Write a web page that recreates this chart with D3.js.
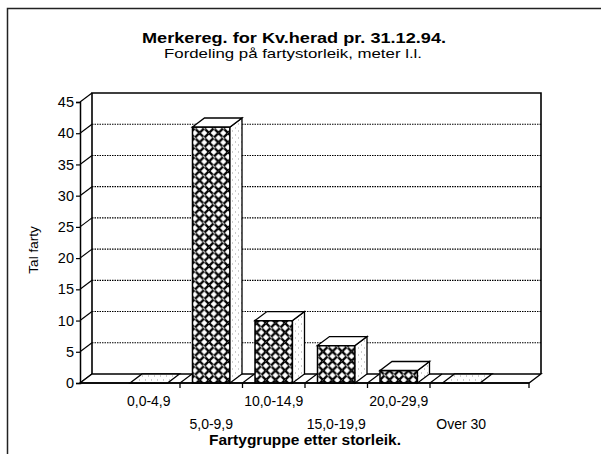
<!DOCTYPE html>
<html>
<head>
<meta charset="utf-8">
<script src="https://cdn.jsdelivr.net/npm/d3@7/dist/d3.min.js"></script>
<style>
  html, body { margin: 0; padding: 0; background: #fff; }
  svg { display: block; font-family: "Liberation Sans", Arial, Helvetica, sans-serif; }
</style>
</head>
<body>
<svg id="chart" width="601" height="454"></svg>
<script>
// Vessel register by size group
const categories = ["0,0-4,9", "5,0-9,9", "10,0-14,9", "15,0-19,9", "20,0-29,9", "Over 30"];
const vessels = [0, 41, 10, 6, 2, 0];
const yTicks = [0, 5, 10, 15, 20, 25, 30, 35, 40, 45];

const titleText = "Merkereg. for Kv.herad pr. 31.12.94.";
const subtitleText = "Fordeling på fartystorleik, meter l.l.";
const yTitle = "Tal farty";
const xTitle = "Fartygruppe etter storleik.";

const svg = d3.select("#chart");
const W = 601, H = 454;

// 3D geometry: depth offset of the back wall
const dx = 12, dy = -9;
const floorLeft = 80, floorRight = 529;

const x = d3.scaleBand().domain(categories).range([117.5, 492.5]).padding(0);
const y = d3.scaleLinear().domain([0, 45]).range([383, 102]);
const barW = x.bandwidth() * 0.6;

// fill patterns
const defs = svg.append("defs");
const P = 9.5;
const hatch = defs.append("pattern")
  .attr("id", "weave").attr("patternUnits", "userSpaceOnUse")
  .attr("width", P).attr("height", P);
hatch.append("rect").attr("width", P).attr("height", P).attr("fill", "#fff");
hatch.append("path").attr("d", `M-2,2 L2,-2 M0,${P} L${P},0 M${P - 2},${P + 2} L${P + 2},${P - 2}`)
  .attr("stroke", "#000").attr("stroke-width", 2.3);
hatch.append("path").attr("d", `M-2,${P - 2} L2,${P + 2} M0,0 L${P},${P} M${P - 2},-2 L${P + 2},2`)
  .attr("stroke", "#000").attr("stroke-width", 2.3);
// small white breaks at the crossings give the woven look
hatch.append("path").attr("d", `M${P / 2 - 1.2},${P / 2 - 1.2} L${P / 2 + 1.2},${P / 2 + 1.2} M-1.2,${P - 1.2} L1.2,${P + 1.2} M${P - 1.2},-1.2 L${P + 1.2},1.2`)
  .attr("stroke", "#fff").attr("stroke-width", 1);

const stipple = defs.append("pattern")
  .attr("id", "stipple").attr("patternUnits", "userSpaceOnUse")
  .attr("width", 6).attr("height", 7);
stipple.append("rect").attr("width", 6).attr("height", 7).attr("fill", "#fff");
stipple.append("path").attr("d", "M1,2 h1 M4,5 h1")
  .attr("stroke", "#999").attr("stroke-width", 1);

// outer frame
svg.append("path")
  .attr("d", `M7.5,${H} V8.5 H${W}`)
  .attr("fill", "none").attr("stroke", "#222").attr("stroke-width", 1.5);

// titles
svg.append("text").attr("x", 294).attr("y", 43).attr("text-anchor", "middle")
  .attr("font-size", 15.5).attr("font-weight", "bold")
  .attr("textLength", 304).attr("lengthAdjust", "spacingAndGlyphs").text(titleText);
svg.append("text").attr("x", 293).attr("y", 58).attr("text-anchor", "middle")
  .attr("font-size", 13.5)
  .attr("textLength", 258).attr("lengthAdjust", "spacingAndGlyphs").text(subtitleText);

// back wall gridlines
const g = svg.append("g");
g.selectAll("line.grid").data(yTicks.filter(t => t > 0 && t < 45)).join("line")
  .attr("class", "grid")
  .attr("x1", floorLeft + dx).attr("x2", floorRight + dx)
  .attr("y1", d => y(d) + dy).attr("y2", d => y(d) + dy)
  .attr("stroke", "#000").attr("stroke-width", 1.1).attr("stroke-dasharray", "1.5,1");

// back wall outline (top and right edges, left back edge)
g.append("path")
  .attr("d", `M${floorLeft + dx},${y(0) + dy} V${y(45) + dy} H${floorRight + dx} V${y(0) + dy}`)
  .attr("fill", "none").attr("stroke", "#000").attr("stroke-width", 1.6);

// left wall depth lines at each tick
g.selectAll("line.wall").data(yTicks).join("line")
  .attr("class", "wall")
  .attr("x1", floorLeft).attr("y1", d => y(d))
  .attr("x2", floorLeft + dx).attr("y2", d => y(d) + dy)
  .attr("stroke", "#000").attr("stroke-width", 1.2);

// floor
g.append("path")
  .attr("d", `M${floorLeft},${y(0)} L${floorLeft + dx},${y(0) + dy} H${floorRight + dx} L${floorRight},${y(0)} Z`)
  .attr("fill", "#fff").attr("stroke", "#000").attr("stroke-width", 1.3);

// floor depth lines at category boundaries
const bounds = categories.slice(1).map(c => x(c));
g.selectAll("line.fl").data(bounds).join("line")
  .attr("class", "fl")
  .attr("x1", d => d).attr("y1", y(0))
  .attr("x2", d => d + dx).attr("y2", y(0) + dy)
  .attr("stroke", "#000").attr("stroke-width", 1.2);

// bars: front face, side face and top face
const bars = g.selectAll("g.bar").data(categories.map((c, i) => ({ c, v: vessels[i] }))).join("g")
  .attr("class", "bar");
bars.each(function(d) {
  const el = d3.select(this);
  const x0 = x(d.c) + (x.bandwidth() - barW) / 2, x1 = x0 + barW;
  const yv = y(d.v), y0 = y(0);
  if (d.v > 0) {
    el.append("rect").attr("x", x0).attr("y", yv).attr("width", barW).attr("height", y0 - yv)
      .attr("fill", "url(#weave)").attr("stroke", "#000").attr("stroke-width", 1.5);
    el.append("path")
      .attr("d", `M${x1},${yv} L${x1 + dx},${yv + dy} V${y0 + dy} L${x1},${y0} Z`)
      .attr("fill", "url(#stipple)").attr("stroke", "#000").attr("stroke-width", 1.3);
  }
  el.append("path")
    .attr("d", `M${x0},${yv} L${x0 + dx},${yv + dy} H${x1 + dx} L${x1},${yv} Z`)
    .attr("fill", d.v > 0 ? "#fff" : "url(#stipple)").attr("stroke", "#000").attr("stroke-width", 1.3);
});

// y axis
const yAxis = d3.axisLeft(y).tickValues(yTicks).tickSize(4).tickPadding(2);
const ya = svg.append("g").attr("transform", `translate(${floorLeft},0)`).call(yAxis);
ya.select(".domain").attr("stroke", "#000").attr("stroke-width", 1.5);
ya.selectAll(".tick line").attr("stroke", "#000").attr("stroke-width", 1.2);
ya.selectAll(".tick text").attr("font-size", 14.5).attr("fill", "#000")
  .attr("font-family", "Liberation Sans, Arial, sans-serif");

// x axis baseline and ticks
svg.append("line").attr("x1", floorLeft).attr("x2", floorRight)
  .attr("y1", y(0)).attr("y2", y(0)).attr("stroke", "#000").attr("stroke-width", 1.5);
svg.selectAll("line.xt").data(bounds.concat([floorRight])).join("line")
  .attr("class", "xt")
  .attr("x1", d => d).attr("x2", d => d)
  .attr("y1", y(0)).attr("y2", y(0) + 5)
  .attr("stroke", "#000").attr("stroke-width", 1.3);

// category labels, staggered on two rows
svg.selectAll("text.xl").data(categories).join("text")
  .attr("class", "xl")
  .attr("x", d => x(d) + x.bandwidth() / 2)
  .attr("y", (d, i) => i % 2 === 0 ? 406 : 429)
  .attr("text-anchor", "middle").attr("font-size", 14).text(d => d);

// axis titles
svg.append("text").attr("x", 305).attr("y", 445).attr("text-anchor", "middle")
  .attr("font-size", 14).attr("font-weight", "bold")
  .attr("textLength", 192).attr("lengthAdjust", "spacingAndGlyphs").text(xTitle);
svg.append("text").attr("transform", "translate(38,250) rotate(-90)")
  .attr("text-anchor", "middle").attr("font-size", 13.5).text(yTitle);
</script>
</body>
</html>
